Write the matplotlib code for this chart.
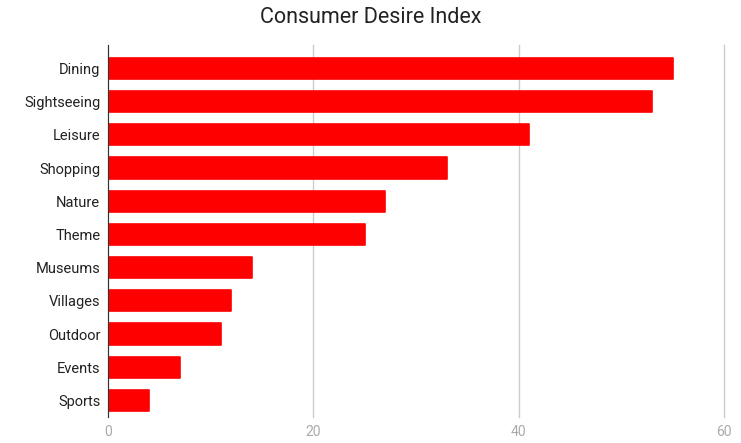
import numpy as np
import matplotlib.pyplot as plt

# data
categories = ["Dining", "Sightseeing", "Leisure", "Shopping", "Nature", "Theme",
              "Museums", "Villages", "Outdoor", "Events", "Sports"]
values = [55, 53, 41, 33, 27, 25, 14, 12, 11, 7, 4]
x_ticks = [0, 20, 40, 60]

plt.rcParams['font.family'] = ['Roboto', 'DejaVu Sans']

fig = plt.figure(figsize=(7.41, 4.43), dpi=100)
ax = fig.add_axes([0.1457, 0.0587, 0.977 - 0.1457, 0.898 - 0.0587])

y = np.arange(len(categories))
bars = ax.barh(y, values, height=0.64, color="#ff0000", edgecolor="#ff0000",
               linewidth=1.2, zorder=3)
for b in bars:
    b.set_joinstyle('round')

ax.set_ylim(len(categories) - 0.5, -0.7)
ax.set_xlim(0, 60)
ax.set_yticks(y)
ax.set_yticklabels(categories, fontsize=10.5, color="#222222")
ax.set_xticks(x_ticks)
ax.set_xticklabels([str(t) for t in x_ticks], fontsize=10, color="#aaaaaa")
ax.tick_params(axis='y', length=0, pad=5.5)
ax.tick_params(axis='x', length=0, pad=6)

ax.grid(axis='x', color="#cccccc", linewidth=1, zorder=0)
for gl in ax.get_xgridlines():
    gl.set_clip_on(False)
for s in ['top', 'right', 'bottom']:
    ax.spines[s].set_visible(False)
ax.spines['left'].set_color("#333333")
ax.spines['left'].set_zorder(4)

fig.suptitle("Consumer Desire Index", fontsize=15.5, color="#222222", y=0.985)

fig.savefig("out.png", dpi=100)
